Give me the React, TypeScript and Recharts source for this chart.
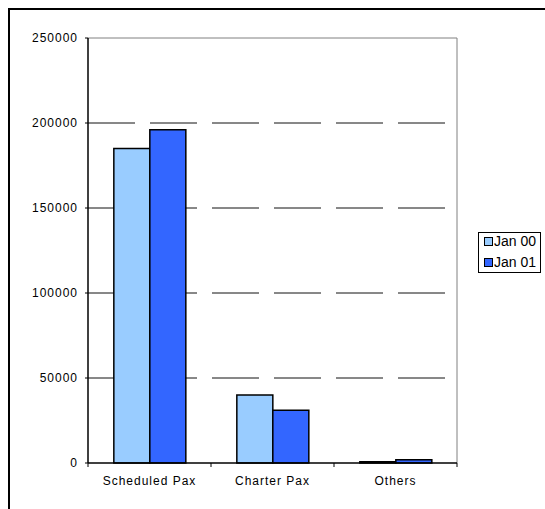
import { BarChart, Bar, XAxis, YAxis, CartesianGrid, Legend, ReferenceLine } from "recharts";

// passenger counts
const categories = ["Scheduled Pax", "Charter Pax", "Others"];
const jan00 = [185000, 40000, 800];
const jan01 = [196000, 31000, 1900];
const yTicks = [0, 50000, 100000, 150000, 200000, 250000];
const gridValues = [50000, 100000, 150000, 200000];

const series = [
  { key: "jan00", name: "Jan 00", color: "#99CCFF" },
  { key: "jan01", name: "Jan 01", color: "#3366FF" },
];

const data = categories.map((name, i) => ({ name, jan00: jan00[i], jan01: jan01[i] }));

const TICK_SIZE = 3;
const TICK_MARGIN = 10;

// category label plus the small boundary ticks Excel draws between categories
function CategoryTick(props: any) {
  const { x, y, payload, index, visibleTicksCount } = props;
  const half = payload.offset || 0;
  const axisY = y - TICK_SIZE - TICK_MARGIN;
  const last = index === visibleTicksCount - 1;
  return (
    <g>
      <line x1={x - half} x2={x - half} y1={axisY} y2={axisY + 4} stroke="#000" />
      {last && <line x1={x + half} x2={x + half} y1={axisY} y2={axisY + 4} stroke="#000" />}
      <text x={x} y={y} dy="0.71em" textAnchor="middle" fill="#000" fontSize={12}>
        {payload.value}
      </text>
    </g>
  );
}

function LegendBox() {
  return (
    <div style={{ paddingLeft: 21 }}>
      <div
        style={{
          width: 63,
          height: 41,
          boxSizing: "border-box",
          border: "1px solid #000",
          background: "#fff",
          fontSize: 14,
          letterSpacing: 0,
          color: "#000",
          paddingLeft: 5,
        }}
      >
        <div style={{ position: "relative", top: -2 }}>
          {series.map((s) => (
            <div key={s.key} style={{ height: 21, lineHeight: "21px", display: "flex", alignItems: "center" }}>
              <span
                style={{
                  display: "inline-block",
                  width: 7,
                  height: 7,
                  border: "1px solid #000",
                  background: s.color,
                  marginRight: 1,
                }}
              />
              <span>{s.name}</span>
            </div>
          ))}
        </div>
      </div>
    </div>
  );
}

export default function App() {
  return (
    <div
      style={{
        position: "fixed",
        left: 8,
        top: 8,
        width: 537,
        height: 501,
        boxSizing: "border-box",
        borderTop: "2px solid #000",
        borderLeft: "2px solid #000",
        background: "#fff",
        fontFamily: "'Liberation Sans', Arial, sans-serif",
        letterSpacing: 1,
        overflow: "hidden",
      }}
    >
      <BarChart
        width={535}
        height={499}
        data={data}
        margin={{ top: 28, right: 4, bottom: 16, left: 0 }}
        barCategoryGap="21%"
        barGap={0}
      >
        <CartesianGrid
          vertical={false}
          horizontalValues={gridValues}
          stroke="#111"
          strokeDasharray="47 15"
        />
        <CartesianGrid
          horizontal={false}
          verticalCoordinatesGenerator={({ offset }: any) => [offset.left + offset.width]}
          stroke="#808080"
        />
        <XAxis
          dataKey="name"
          height={30}
          axisLine={{ stroke: "#000", strokeWidth: 1.5 }}
          tickLine={false}
          tickSize={TICK_SIZE}
          tickMargin={TICK_MARGIN}
          tick={<CategoryTick />}
        />
        <YAxis
          domain={[0, 250000]}
          ticks={yTicks}
          width={78}
          axisLine={{ stroke: "#000", strokeWidth: 1.5 }}
          tickLine={{ stroke: "#000" }}
          tickSize={3}
          tickMargin={7}
          tick={{ fill: "#000", fontSize: 12 }}
          interval={0}
        />
        <ReferenceLine y={250000} stroke="#808080" />
        <Legend
          layout="vertical"
          align="right"
          verticalAlign="top"
          wrapperStyle={{ top: 222 }}
          content={() => <LegendBox />}
        />
        {series.map((s) => (
          <Bar
            key={s.key}
            dataKey={s.key}
            name={s.name}
            fill={s.color}
            stroke="#000"
            strokeWidth={1.5}
            isAnimationActive={false}
          />
        ))}
      </BarChart>
    </div>
  );
}
